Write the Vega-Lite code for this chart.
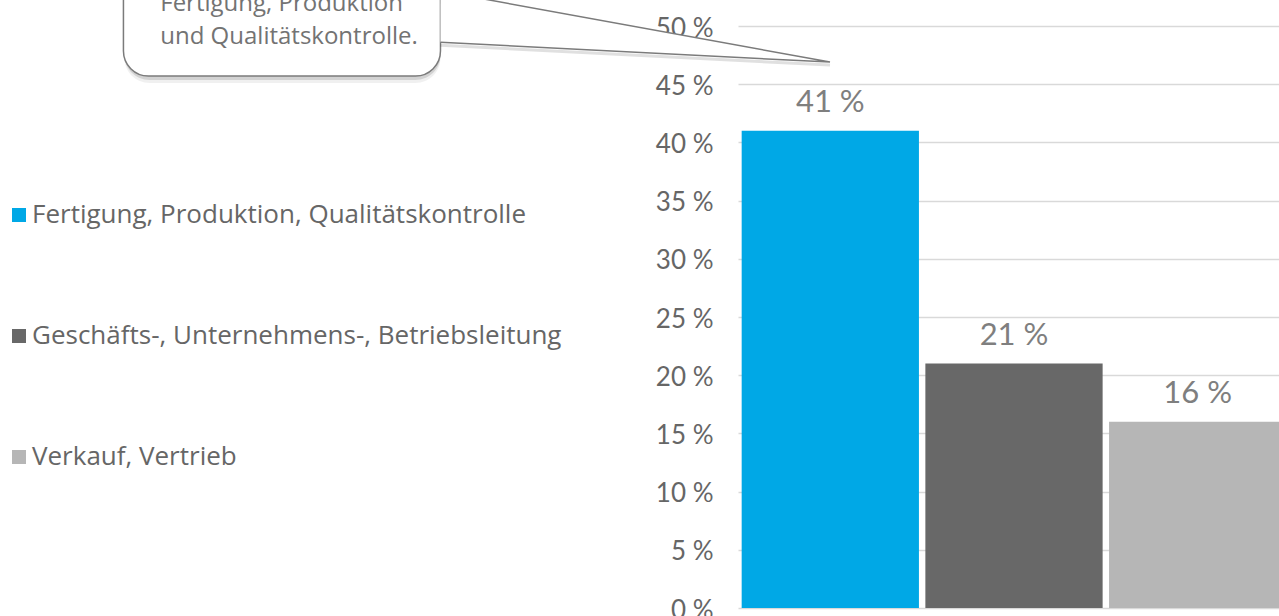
{
  "$schema": "https://vega.github.io/schema/vega-lite/v6.json",
  "width": 552,
  "height": 582,
  "autosize": {"type": "none"},
  "padding": {"left": 738, "top": 26, "right": -11, "bottom": 8},
  "background": "white",
  "config": {"view": {"stroke": null}, "font": "Lato"},
  "datasets": {
    "bars": [
      {"Bereich": "Fertigung, Produktion, Qualitätskontrolle", "Anteil": 41, "Label": "41 %"},
      {"Bereich": "Geschäfts-, Unternehmens-, Betriebsleitung", "Anteil": 21, "Label": "21 %"},
      {"Bereich": "Verkauf, Vertrieb", "Anteil": 16, "Label": "16 %"}
    ],
    "box": [{"x1": -3.34, "x2": -1.617, "y1": 45.7, "y2": 58}],
    "tail": [
      {"order": 1, "px": -1.617, "py": 53.0},
      {"order": 2, "px": 0.5, "py": 46.9},
      {"order": 3, "px": -1.617, "py": 48.6}
    ],
    "tailLow": [
      {"order": 1, "px": 0.5, "py": 46.9},
      {"order": 2, "px": -1.617, "py": 48.6}
    ],
    "note": [
      {"px": -3.14, "py": 51.3, "text": "Fertigung, Produktion"},
      {"px": -3.14, "py": 48.45, "text": "und Qualitätskontrolle."}
    ]
  },
  "layer": [
    {
      "data": {"name": "bars"},
      "layer": [
        {
          "mark": {"type": "bar"},
          "encoding": {
            "x": {"field": "Bereich", "type": "nominal", "sort": null, "axis": null,
                  "scale": {"paddingInner": 0.035, "paddingOuter": 0.02}},
            "y": {"field": "Anteil", "type": "quantitative",
                  "scale": {"domain": [0, 50], "nice": false, "zero": true},
                  "axis": {"values": [0, 5, 10, 15, 20, 25, 30, 35, 40, 45, 50],
                           "labelExpr": "datum.value + ' %'", "domain": false, "ticks": false,
                           "labelFontSize": 26, "labelColor": "#666666", "labelFont": "Lato",
                           "labelPadding": 25, "labelBaseline": "middle", "labelOffset": 2,
                           "grid": true, "gridColor": "#d9d9d9", "gridWidth": 1.5,
                           "title": null}},
            "color": {"field": "Bereich", "type": "nominal", "sort": null,
                      "scale": {"domain": ["Fertigung, Produktion, Qualitätskontrolle", "Geschäfts-, Unternehmens-, Betriebsleitung", "Verkauf, Vertrieb"],
                                "range": ["#00A8E6", "#686868", "#B6B6B6"]},
                      "legend": {"title": null, "orient": "none", "legendX": -732, "legendY": 176,
                                 "symbolType": "square", "symbolSize": 196, "symbolStrokeWidth": 0,
                                 "labelFontSize": 26, "labelColor": "#666666", "labelFont": "Open Sans",
                                 "rowPadding": 95, "labelOffset": 0, "padding": 0, "labelLimit": 700}}
          }
        },
        {
          "mark": {"type": "text", "dy": -19, "baseline": "alphabetic", "fontSize": 31, "color": "#7f7f7f", "font": "Lato"},
          "encoding": {
            "x": {"field": "Bereich", "type": "nominal", "sort": null, "axis": null,
                  "scale": {"paddingInner": 0.035, "paddingOuter": 0.02}},
            "y": {"field": "Anteil", "type": "quantitative", "scale": {"domain": [0, 50], "nice": false, "zero": true}},
            "text": {"field": "Label"}
          }
        }
      ]
    },
    {
      "layer": [
        {
          "data": {"name": "box"},
          "mark": {"type": "rect", "cornerRadius": 25, "fill": "#000000", "opacity": 0.06, "xOffset": 1, "yOffset": 7},
          "encoding": {
            "x": {"field": "x1", "type": "quantitative", "scale": {"domain": [0, 3], "nice": false, "zero": false}, "axis": null},
            "x2": {"field": "x2"},
            "y": {"field": "y1", "type": "quantitative", "scale": {"domain": [0, 50], "nice": false, "zero": false}, "axis": null},
            "y2": {"field": "y2"}
          }
        },
        {
          "data": {"name": "box"},
          "mark": {"type": "rect", "cornerRadius": 25, "fill": "#000000", "opacity": 0.12, "xOffset": 1, "yOffset": 4},
          "encoding": {
            "x": {"field": "x1", "type": "quantitative"},
            "x2": {"field": "x2"},
            "y": {"field": "y1", "type": "quantitative"},
            "y2": {"field": "y2"}
          }
        },
        {
          "data": {"name": "box"},
          "mark": {"type": "rect", "cornerRadius": 25, "fill": "white", "stroke": "#7b7b7b", "strokeWidth": 1.5},
          "encoding": {
            "x": {"field": "x1", "type": "quantitative"},
            "x2": {"field": "x2"},
            "y": {"field": "y1", "type": "quantitative"},
            "y2": {"field": "y2"}
          }
        },
        {
          "data": {"name": "tailLow"},
          "mark": {"type": "line", "stroke": "#000000", "strokeWidth": 3, "opacity": 0.12, "yOffset": 3},
          "encoding": {
            "x": {"field": "px", "type": "quantitative"},
            "y": {"field": "py", "type": "quantitative"},
            "order": {"field": "order"}
          }
        },
        {
          "data": {"name": "tail"},
          "mark": {"type": "line", "fill": "white", "stroke": "#7b7b7b", "strokeWidth": 1.5},
          "encoding": {
            "x": {"field": "px", "type": "quantitative"},
            "y": {"field": "py", "type": "quantitative"},
            "order": {"field": "order"}
          }
        },
        {
          "data": {"name": "note"},
          "mark": {"type": "text", "align": "left", "baseline": "alphabetic", "fontSize": 24, "font": "Open Sans", "color": "#737373"},
          "encoding": {
            "x": {"field": "px", "type": "quantitative"},
            "y": {"field": "py", "type": "quantitative"},
            "text": {"field": "text"}
          }
        }
      ]
    }
  ],
  "resolve": {"scale": {"x": "independent", "y": "independent"}}
}
